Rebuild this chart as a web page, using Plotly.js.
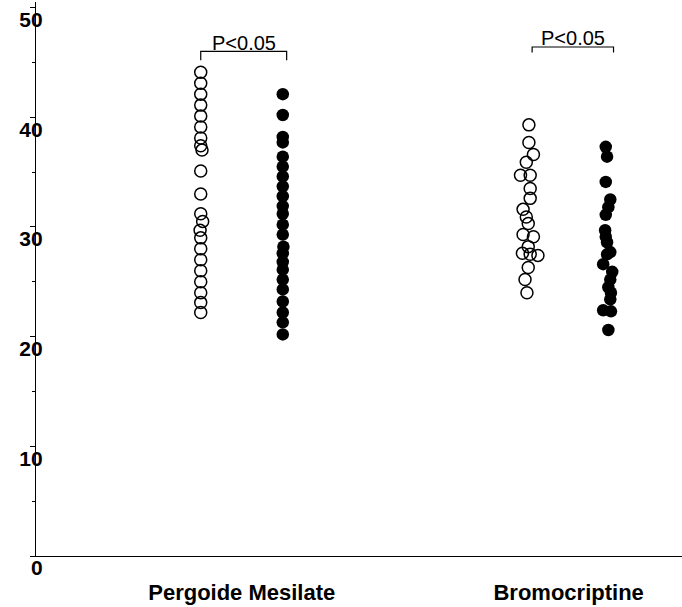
<!DOCTYPE html>
<html>
<head>
<meta charset="utf-8">
<script src="https://cdn.plot.ly/plotly-3.0.1.min.js"></script>
<style>html,body{margin:0;padding:0;background:#fff;}#chart{width:682px;height:607px;}</style>
</head>
<body>
<div id="chart"></div>
<script>
// ---- data ----
const categories = ["Pergoide Mesilate", "Bromocriptine"];
const pValueText = "P<0.05";
const yTickVals = [0, 10, 20, 30, 40, 50];

const pergOpen   = [44.1, 43.1, 42.1, 41.1, 40.1, 39.1, 38.1, 37.4, 37.0, 35.1, 33.0, 31.2, 30.5, 29.7, 29.0, 28.0, 27.0, 26.0, 25.0, 24.0, 23.1, 22.2];
const pergOpenJitter = [0, 0, 0, 0, 0, 0, 0, 0, 0.02, 0, 0, 0, 0.03, -0.01, 0, 0, 0, 0, 0, 0, 0, 0];
const pergFilled = [42.1, 40.2, 38.2, 37.7, 36.4, 35.5, 34.6, 33.7, 32.8, 31.9, 31.2, 30.2, 29.3, 28.2, 27.6, 26.8, 26.1, 25.2, 24.3, 23.2, 22.2, 21.3, 20.2];
const pergFilledJitter = [0, 0, 0, 0, 0, 0, 0, 0, 0, 0, 0, 0, 0, 0.01, 0, 0, 0, 0, 0, 0, 0, 0, 0];

const bromoOpen  = [39.3, 37.7, 36.6, 35.9, 34.7, 34.7, 33.5, 32.6, 31.6, 30.9, 30.3, 29.3, 29.1, 28.2, 27.6, 27.5, 27.4, 26.3, 25.2, 24.0];
const bromoOpenJitter = [-0.02, -0.02, 0.05, -0.06, -0.15, 0, 0, 0, -0.11, -0.06, -0.03, -0.11, 0.05, -0.03, -0.12, 0, 0.12, -0.03, -0.08, -0.05];
const bromoFilled = [37.3, 36.4, 34.1, 32.5, 31.8, 31.1, 29.7, 29.1, 28.6, 27.7, 27.5, 26.6, 25.9, 25.2, 24.5, 24.0, 23.4, 22.4, 22.3, 20.6];
const bromoFilledJitter = [-0.02, 0, -0.02, 0.05, 0.02, -0.02, -0.03, -0.02, 0, 0.05, 0, -0.06, 0.08, 0.05, 0.02, 0.06, 0.05, -0.06, 0.06, 0.02];

// ---- layout constants ----
const groupX = { pergOpen: 2.55, pergFilled: 3.82, bromoOpen: 7.65, bromoFilled: 8.84 };

function xs(center, jit) { return jit.map(j => center + j); }

const openMarker = { symbol: "circle-open", size: 12, color: "#000", line: { width: 1.5, color: "#000" } };
const filledMarker = { symbol: "circle", size: 12.5, color: "#000", line: { width: 0 } };

const traces = [
  { x: xs(groupX.pergOpen, pergOpenJitter), y: pergOpen, mode: "markers", type: "scatter", marker: openMarker, hoverinfo: "y" },
  { x: xs(groupX.pergFilled, pergFilledJitter), y: pergFilled, mode: "markers", type: "scatter", marker: filledMarker, hoverinfo: "y" },
  { x: xs(groupX.bromoOpen, bromoOpenJitter), y: bromoOpen, mode: "markers", type: "scatter", marker: openMarker, hoverinfo: "y" },
  { x: xs(groupX.bromoFilled, bromoFilledJitter), y: bromoFilled, mode: "markers", type: "scatter", marker: filledMarker, hoverinfo: "y" }
];

function bracket(x0, x1, yTop, yEnd) {
  return { type: "path", xref: "x", yref: "y",
    path: `M ${x0},${yEnd} L ${x0},${yTop} L ${x1},${yTop} L ${x1},${yEnd}`,
    line: { color: "#000", width: 1.2 } };
}
const br1 = [groupX.pergOpen, groupX.pergFilled + 0.06, 46.0, 45.2];
const br2 = [groupX.bromoOpen + 0.03, groupX.bromoFilled + 0.1, 46.4, 45.9];

const layout = {
  width: 682, height: 607,
  margin: { l: 36, r: 0, t: 2, b: 51 },
  paper_bgcolor: "#fff", plot_bgcolor: "#fff",
  showlegend: false,
  font: { family: "Arial, 'Liberation Sans', sans-serif", color: "#000" },
  xaxis: {
    range: [0, 10], showgrid: false, zeroline: false,
    showline: true, linecolor: "#000", linewidth: 1.2,
    tickvals: [(groupX.pergOpen + groupX.pergFilled) / 2, (groupX.bromoOpen + groupX.bromoFilled) / 2],
    ticktext: categories, ticks: "",
    ticklabelstandoff: 16,
    tickfont: { size: 22, weight: "bold", family: "Arial, 'Liberation Sans', sans-serif", color: "#000" }
  },
  yaxis: {
    range: [0, 50.5], showgrid: false, zeroline: false,
    showline: true, linecolor: "#000", linewidth: 1.2,
    tickvals: yTickVals, ticks: "outside", ticklen: 5, tickwidth: 1, tickcolor: "#000",
    minor: { dtick: 5, tick0: 0, ticks: "outside", ticklen: 3, tickwidth: 1, tickcolor: "#000" },
    ticklabelshift: 12, ticklabelstandoff: -17,
    tickfont: { size: 21, weight: "bold", family: "Arial, 'Liberation Sans', sans-serif", color: "#000" }
  },
  shapes: [bracket(...br1), bracket(...br2)],
  annotations: [
    { x: (br1[0] + br1[1]) / 2, y: br1[2], xref: "x", yref: "y", text: pValueText, showarrow: false,
      yanchor: "bottom", yshift: -5, font: { size: 20, color: "#000" } },
    { x: (br2[0] + br2[1]) / 2, y: br2[2], xref: "x", yref: "y", text: pValueText, showarrow: false,
      yanchor: "bottom", yshift: -4, font: { size: 20, color: "#000" } }
  ]
};

Plotly.newPlot("chart", traces, layout, { displayModeBar: false, staticPlot: true });
</script>
</body>
</html>
